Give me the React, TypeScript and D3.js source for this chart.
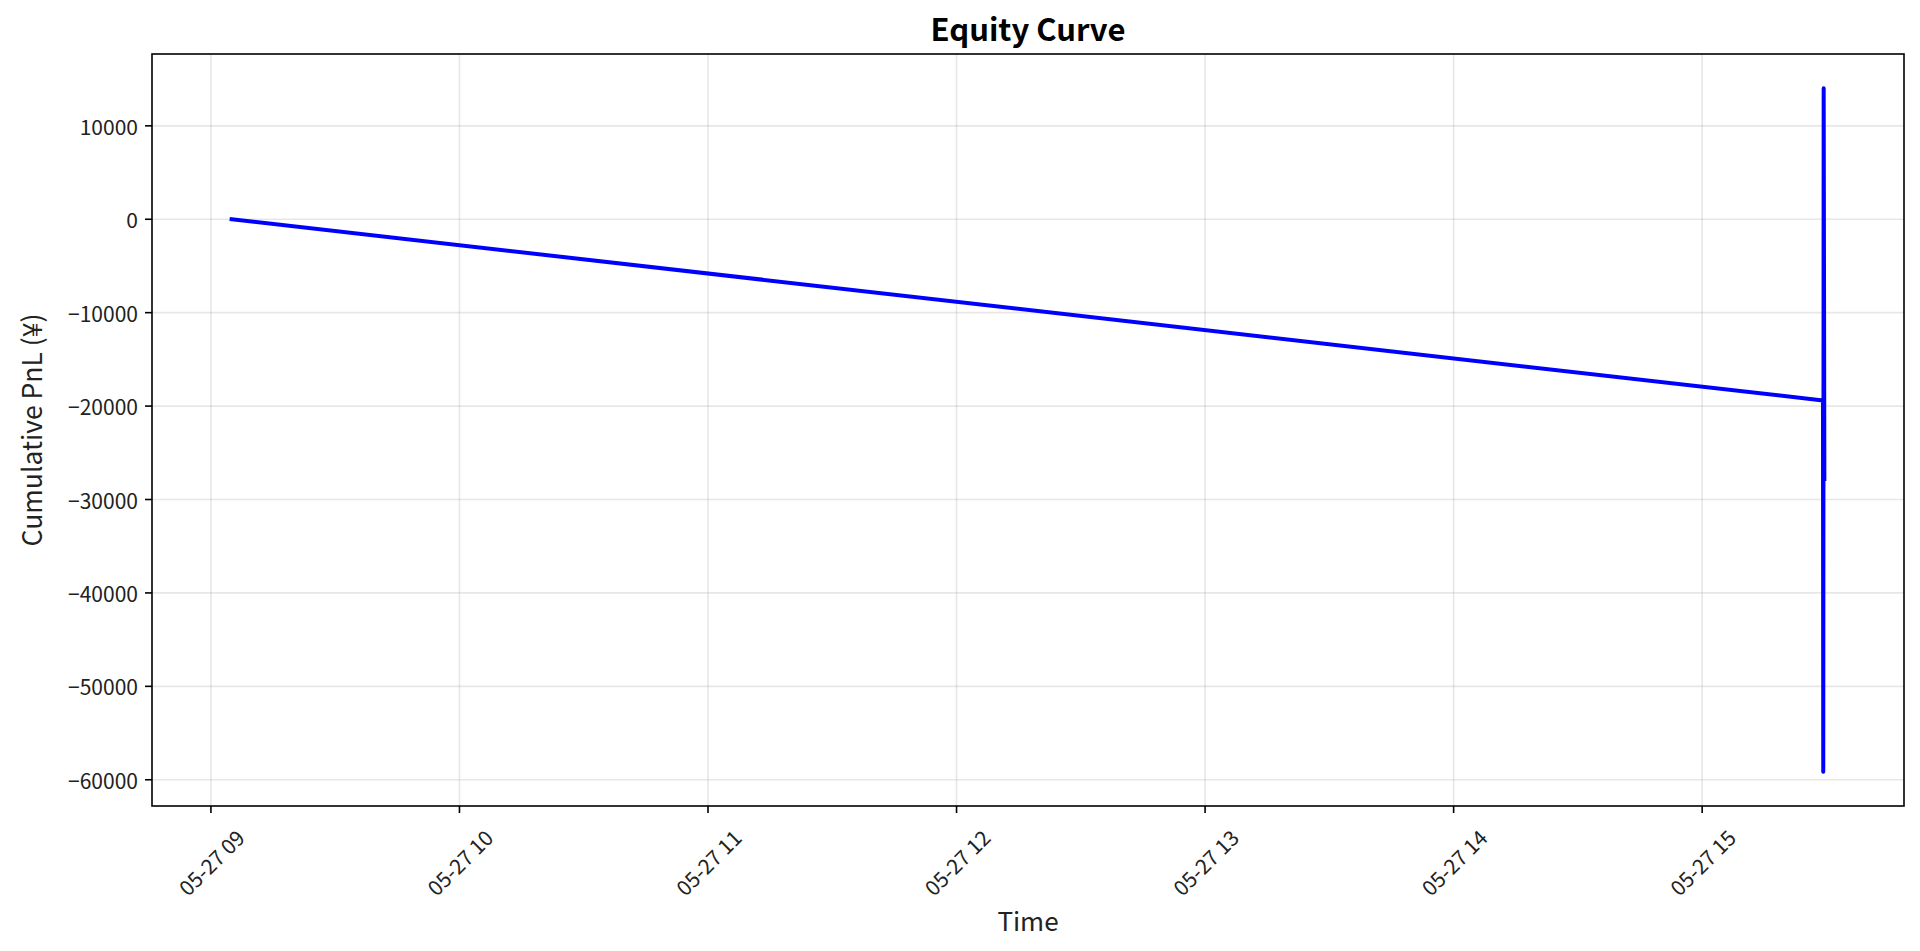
import { useMemo } from 'react'
import * as d3 from 'd3'

const WIDTH = 1920
const HEIGHT = 951
const PLOT = { left: 152, right: 1904, top: 54, bottom: 806 }
const FONT = '"Noto Sans CJK JP", "Noto Sans", sans-serif'

// cumulative PnL per trade close
const times = [
  '2025-05-27 09:05:00',
  '2025-05-27 15:29:10',
  '2025-05-27 15:29:14',
  '2025-05-27 15:29:20',
  '2025-05-27 15:29:30',
]
const pnl = [0, -19400, -59150, 14030, -27800]

const xTickLabels = [
  '2025-05-27 09:00',
  '2025-05-27 10:00',
  '2025-05-27 11:00',
  '2025-05-27 12:00',
  '2025-05-27 13:00',
  '2025-05-27 14:00',
  '2025-05-27 15:00',
]
const yTicks = [-60000, -50000, -40000, -30000, -20000, -10000, 0, 10000]

const parseTime = d3.timeParse('%Y-%m-%d %H:%M:%S')
const parseTick = d3.timeParse('%Y-%m-%d %H:%M')
const fmtTime = d3.timeFormat('%m-%d %H')
const fmtY = (v: number) => (v < 0 ? '\u2212' + Math.abs(v) : String(v))

const pad = ([a, b]: [number, number]) => {
  const m = (b - a) * 0.05
  return [a - m, b + m]
}

export default function App() {
  const data = useMemo(
    () => times.map((t, i) => ({ t: parseTime(t) as Date, v: pnl[i] })),
    []
  )

  const xScale = useMemo(() => {
    const [a, b] = d3.extent(data, (d) => +d.t) as [number, number]
    const [lo, hi] = pad([a, b])
    return d3.scaleTime().domain([new Date(lo), new Date(hi)]).range([PLOT.left, PLOT.right])
  }, [data])

  const yScale = useMemo(() => {
    const ext = d3.extent(data, (d) => d.v) as [number, number]
    return d3.scaleLinear().domain(pad(ext)).range([PLOT.bottom, PLOT.top])
  }, [data])

  const line = d3
    .line<{ t: Date; v: number }>()
    .x((d) => xScale(d.t))
    .y((d) => yScale(d.v))

  const xTicks = xTickLabels.map((s) => parseTick(s) as Date)
  const gridColor = '#b0b0b0'

  return (
    <svg
      width={WIDTH}
      height={HEIGHT}
      style={{ position: 'absolute', left: 0, top: 0, background: '#fff' }}
    >
      <rect x={0} y={0} width={WIDTH} height={HEIGHT} fill="#fff" />

      {/* grid */}
      {xTicks.map((t, i) => (
        <line
          key={`gx${i}`}
          x1={xScale(t)}
          x2={xScale(t)}
          y1={PLOT.top}
          y2={PLOT.bottom}
          stroke={gridColor}
          strokeOpacity={0.3}
          strokeWidth={1.6}
        />
      ))}
      {yTicks.map((v) => (
        <line
          key={`gy${v}`}
          x1={PLOT.left}
          x2={PLOT.right}
          y1={yScale(v)}
          y2={yScale(v)}
          stroke={gridColor}
          strokeOpacity={0.3}
          strokeWidth={1.6}
        />
      ))}

      {/* equity line */}
      <path
        d={line(data) ?? ''}
        fill="none"
        stroke="#0000ff"
        strokeWidth={4}
        strokeLinecap="square"
        strokeLinejoin="round"
      />

      {/* frame */}
      <rect
        x={PLOT.left}
        y={PLOT.top}
        width={PLOT.right - PLOT.left}
        height={PLOT.bottom - PLOT.top}
        fill="none"
        stroke="#000"
        strokeWidth={1.6}
      />

      {/* y axis */}
      {yTicks.map((v) => (
        <g key={`yt${v}`} transform={`translate(${PLOT.left},${yScale(v)})`}>
          <line x1={-7} x2={0} stroke="#000" strokeWidth={1.6} />
          <text
            x={-14}
            textAnchor="end"
            dominantBaseline="central"
            fontSize={21}
            fontFamily={FONT}
            fill="#222"
          >
            {fmtY(v)}
          </text>
        </g>
      ))}

      {/* x axis */}
      {xTicks.map((t, i) => (
        <g key={`xt${i}`}>
          <line
            x1={xScale(t)}
            x2={xScale(t)}
            y1={PLOT.bottom}
            y2={PLOT.bottom + 7}
            stroke="#000"
            strokeWidth={1.6}
          />
          <text
            transform={`translate(${xScale(t)},862) rotate(-45)`}
            textAnchor="middle"
            dominantBaseline="central"
            fontSize={21}
            fontFamily={FONT}
            fill="#222"
          >
            {fmtTime(t)}
          </text>
        </g>
      ))}

      {/* labels */}
      <text
        x={(PLOT.left + PLOT.right) / 2}
        y={41}
        textAnchor="middle"
        fontSize={31}
        fontWeight="bold"
        fontFamily={FONT}
        fill="#000"
      >
        Equity Curve
      </text>
      <text
        x={(PLOT.left + PLOT.right) / 2}
        y={931}
        textAnchor="middle"
        fontSize={26}
        fontFamily={FONT}
        fill="#222"
      >
        Time
      </text>
      <text
        transform={`translate(30,${(PLOT.top + PLOT.bottom) / 2}) rotate(-90)`}
        textAnchor="middle"
        dominantBaseline="central"
        fontSize={26.5}
        fontFamily={FONT}
        fill="#222"
      >
        Cumulative PnL (¥)
      </text>
    </svg>
  )
}
